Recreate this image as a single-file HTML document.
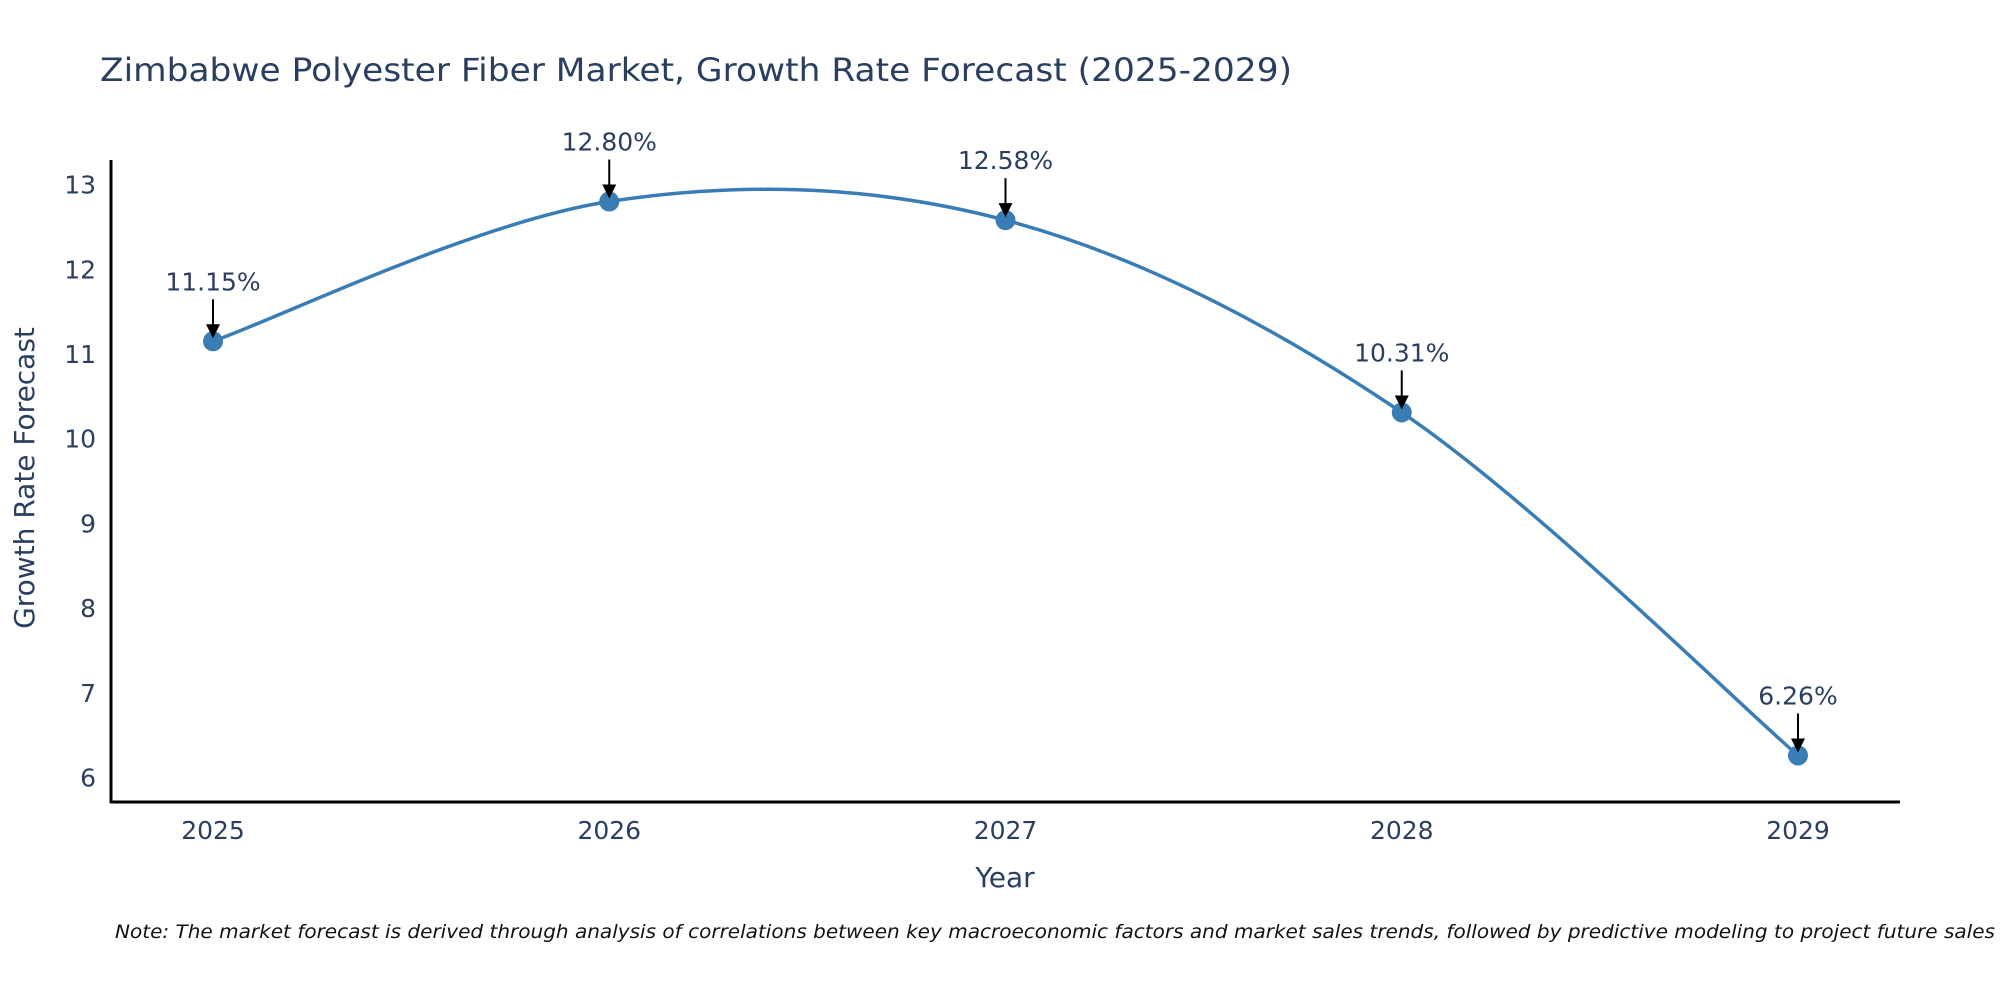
<!DOCTYPE html>
<html><head><meta charset="utf-8"><style>
html,body{margin:0;padding:0;background:#fff;}
svg text{font-family:"DejaVu Sans","Liberation Sans",sans-serif;fill:#2a3f5f;}
</style></head><body>
<svg id="chart" width="2000" height="1000" xmlns="http://www.w3.org/2000/svg">
<text x="100" y="81" font-size="32" textLength="1192" lengthAdjust="spacingAndGlyphs">Zimbabwe Polyester Fiber Market, Growth Rate Forecast (2025-2029)</text>
<g id="yticks"></g>
<g id="xticks"></g>
<line x1="111" y1="160" x2="111" y2="803" stroke="#000" stroke-width="3"/>
<line x1="110" y1="802" x2="1900" y2="802" stroke="#000" stroke-width="3"/>
<path id="curve" fill="none" stroke="#3a7db5" stroke-width="3.5"/>
<g id="marks"></g>
<text x="34" y="478" font-size="28" text-anchor="middle" transform="rotate(-90 34 478)">Growth Rate Forecast</text>
<text x="1005" y="887" font-size="28" text-anchor="middle">Year</text>
<text x="115" y="938" font-size="19" font-style="italic" textLength="1880" lengthAdjust="spacingAndGlyphs" style="fill:#111">Note: The market forecast is derived through analysis of correlations between key macroeconomic factors and market sales trends, followed by predictive modeling to project future sales</text>
</svg>
<script>
const years = ["2025","2026","2027","2028","2029"];
const values = [11.15, 12.80, 12.58, 10.31, 6.26];
const labels = ["11.15%","12.80%","12.58%","10.31%","6.26%"];
const yTicks = [6,7,8,9,10,11,12,13];

const NS="http://www.w3.org/2000/svg";
function xs(i){return 213+i*396.25;}
function ys(v){return 354-(v-11)*84.7;}
function mk(tag,attrs,parent){const e=document.createElementNS(NS,tag);for(const k in attrs)e.setAttribute(k,attrs[k]);parent.appendChild(e);return e;}

const yt=document.getElementById('yticks');
yTicks.forEach(t=>{
  const e=mk('text',{x:96,y:ys(t)+9,'font-size':25,'text-anchor':'end'},yt);
  e.textContent=t;
  
  
});
const xt=document.getElementById('xticks');
years.forEach((y,i)=>{
  const e=mk('text',{x:xs(i),y:839,'font-size':25,'text-anchor':'middle'},xt);
  e.textContent=y;
  
  
});

const pts=values.map((v,i)=>[xs(i),ys(v)]);
let d="M"+pts[0][0]+","+pts[0][1];
const s=1/6;
for(let i=0;i<pts.length-1;i++){
  const p0=pts[Math.max(i-1,0)],p1=pts[i],p2=pts[i+1],p3=pts[Math.min(i+2,pts.length-1)];
  const c1=[p1[0]+(p2[0]-p0[0])*s,p1[1]+(p2[1]-p0[1])*s];
  const c2=[p2[0]-(p3[0]-p1[0])*s,p2[1]-(p3[1]-p1[1])*s];
  d+=" C"+c1+" "+c2+" "+p2;
}
document.getElementById('curve').setAttribute('d',d);

const g=document.getElementById('marks');
pts.forEach((p,i)=>{
  const c=mk('circle',{cx:p[0],cy:p[1],r:10,fill:'#3a7db5'},g);
  
  
  const l=mk('line',{x1:p[0],y1:p[1]-42,x2:p[0],y2:p[1]-14,stroke:'#000','stroke-width':2},g);
  
  
  const a=mk('polygon',{points:`${p[0]-7},${p[1]-17} ${p[0]+7},${p[1]-17} ${p[0]},${p[1]-3}`,fill:'#000'},g);
  
  
  const t=mk('text',{x:p[0],y:p[1]-51,'font-size':25,'text-anchor':'middle'},g);
  t.textContent=labels[i];
  
  
});
</script>
</body></html>
